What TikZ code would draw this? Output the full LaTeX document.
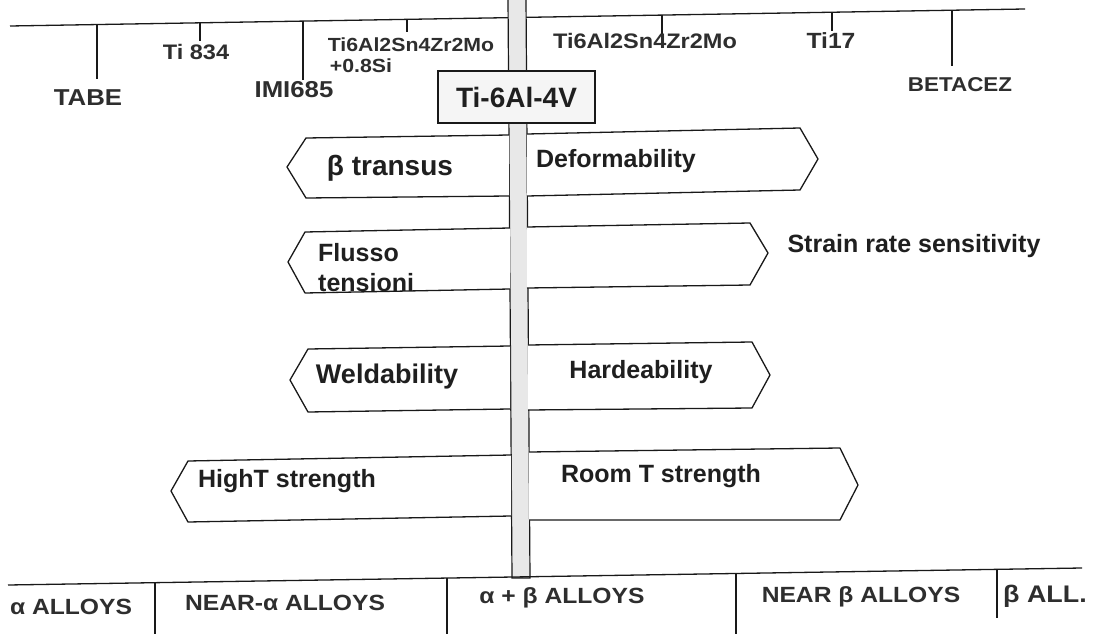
\documentclass[tikz,border=0pt]{standalone}
\usepackage{fontspec}
\setmainfont{Liberation Sans}
\newfontfamily\hand[FakeStretch=1.12]{Liberation Sans}
\newcommand{\hsz}[1]{\hand\bfseries\fontsize{#1}{#1}\selectfont}
\newcommand{\psz}[1]{\bfseries\fontsize{#1}{#1}\selectfont}
\begin{document}
\begin{tikzpicture}[x=1pt,y=-1pt,
  ink/.style={draw=black!90, line width=1.3pt},
  thin/.style={draw=black!90, line width=1.1pt},
  sign/.style={ink, fill=white, line join=round},
  printed/.style={text=black!88, inner sep=0pt},
  handlbl/.style={text=black!82, inner sep=0pt},
]
\useasboundingbox (0,0) rectangle (1096,634);
\fill[white] (0,0) rectangle (1096,634);

% ---- upper scale: alloy grades hanging from a line ----
\coordinate (tl) at (10,26);
\coordinate (tr) at (1025,9);
\draw[ink] (tl) -- (tr);
\coordinate (k1) at (97,24.5);  \coordinate (k1b) at (97,79);
\coordinate (k2) at (200,22.8); \coordinate (k2b) at (200,41);
\coordinate (k3) at (303,21);   \coordinate (k3b) at (303,80);
\coordinate (k4) at (407,19.3); \coordinate (k4b) at (407,32);
\coordinate (k5) at (662,15.3); \coordinate (k5b) at (662,39);
\coordinate (k6) at (832,12.2); \coordinate (k6b) at (832,31);
\coordinate (k7) at (952,10.2); \coordinate (k7b) at (952,66);
\foreach \k in {1,...,7} \draw[thin] (k\k) -- (k\k b);

\node[handlbl] (tabe) at (88,98) {\hsz{23}TABE};
\node[handlbl] (ti834) at (196,52) {\hsz{21}Ti 834};
\node[handlbl] (imi) at (294,90) {\hsz{23}IMI685};
\node[handlbl] (t6242) at (411,45) {\hsz{19}Ti6Al2Sn4Zr2Mo};
\node[handlbl] (t6242b) at (361,66) {\hsz{19}+0.8Si};
\node[handlbl] (t6246) at (645,41) {\hsz{21}Ti6Al2Sn4Zr2Mo};
\node[handlbl] (ti17) at (831,41) {\hsz{22}Ti17};
\node[handlbl] (betac) at (960,85) {\hsz{20}BETACEZ};

% ---- signpost pole ----
\draw[line width=1.2pt, draw=black!90, fill=black!9]
  (508,-2) -- (526,-2) -- (530,578) -- (512,578) -- cycle;

% ---- alloy name plate ----
\node[draw=black!90, line width=1.3pt, fill=black!4, minimum width=157pt,
      minimum height=52pt, inner sep=0pt] (alloy) at (516.5,97)
      {\textcolor{black!88}{\psz{28}Ti-6Al-4V}};

% ---- row 1 ----
\draw[sign] (509,135) -- (306,138) -- (287,167) -- (306,198) -- (509,196);
\draw[sign] (527,134) -- (800,128) -- (818,159) -- (800,190) -- (527,196);
\node[printed] (btr) at (390,168) {\psz{28}β transus};
\node[printed] (defo) at (616,161) {\psz{25}Deformability};

% ---- row 2 ----
\draw[sign] (510,228) -- (305,232) -- (288,262) -- (305,293) -- (510,289);
\draw[sign] (527,227) -- (750,223) -- (768,253) -- (750,285) -- (527,288);
\node[printed, anchor=base west] (flux1) at (318,261) {\psz{25}Flusso};
\node[printed, anchor=base west] (flux2) at (318,291) {\psz{25}tensioni};
\node[printed] (srs) at (914,246) {\psz{25}Strain rate sensitivity};

% ---- row 3 ----
\draw[sign] (510,346) -- (308,349) -- (290,380) -- (308,412) -- (510,409);
\draw[sign] (528,345) -- (752,342) -- (770,375) -- (752,408) -- (528,410);
\node[printed] (weld) at (387,377) {\psz{27}Weldability};
\node[printed] (hard) at (641,372) {\psz{25}Hardeability};

% ---- row 4 ----
\draw[sign] (511,455) -- (188,461) -- (171,491) -- (188,522) -- (511,516);
\draw[sign] (529,452) -- (840,448) -- (858,485) -- (840,520) -- (529,520);
\node[printed] (hts) at (287,481) {\psz{25}HighT strength};
\node[printed] (rts) at (661,476) {\psz{25}Room T strength};

% ---- lower scale: alloy classes ----
\coordinate (bl) at (8,585);
\coordinate (br) at (1082,568);
\draw[ink] (bl) -- (br);
\coordinate (d1) at (155,582.7); \coordinate (d1b) at (155,636);
\coordinate (d2) at (447,578.1); \coordinate (d2b) at (447,636);
\coordinate (d3) at (736,573.5); \coordinate (d3b) at (736,636);
\coordinate (d4) at (997,569.4); \coordinate (d4b) at (997,618);
\foreach \d in {1,...,4} \draw[thin] (d\d) -- (d\d b);

\node[handlbl] (ca) at (71,607) {\hsz{22}α ALLOYS};
\node[handlbl] (cna) at (285,603) {\hsz{22}NEAR-α ALLOYS};
\node[handlbl] (cab) at (562,598) {\hsz{22}α + β ALLOYS};
\node[handlbl] (cnb) at (861,597) {\hsz{22}NEAR β ALLOYS};
\node[handlbl] (cb) at (1045,596) {\hsz{24}β ALL.};
\end{tikzpicture}
\end{document}
